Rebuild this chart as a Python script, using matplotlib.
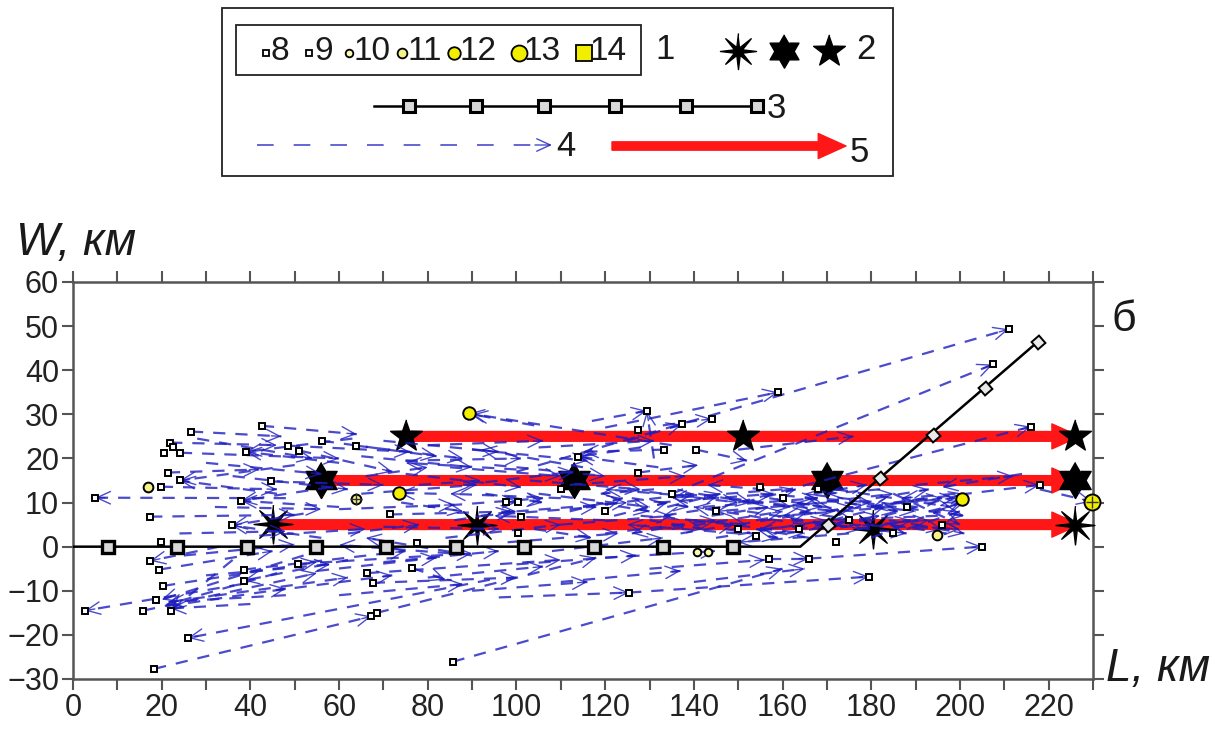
import numpy as np
import matplotlib
matplotlib.use('Agg')
import matplotlib.pyplot as plt
from matplotlib.ticker import MultipleLocator
from matplotlib.patches import Rectangle

plt.rcParams['font.family'] = ['Liberation Sans', 'DejaVu Sans']

# ---- data ----
# profile line (3) and its markers
profile_x = [0, 164, 217.6]
profile_y = [0, 0, 46.5]
profile_sq_x = [7.9, 23.4, 39.2, 54.8, 70.6, 86.4, 101.7, 117.5, 133, 148.8]
profile_dia_x = [170.3, 182, 194, 205.6, 217.6]
profile_dia_y = [5, 15.6, 25.4, 36, 46.5]

# main shocks (2) and rupture arrows (5)
shock_y = [25, 15, 5]
shock_x0 = [75, 56, 45]
shock_x1 = [227, 227, 227]
star5_x = [75, 151, 226]
star5_y = [25, 25, 25]
star6_x = [56, 113, 170, 226]
star6_y = [15, 15, 15, 15]
star8_x = [45, 91, 180.5, 226]
star8_y = [5.2, 5, 4, 5]

# earthquakes by energy class (1)
quakes_8 = [(67.3, -15.8), (85.6, -26.1), (2.7, -14.5), (15.8, -14.5), (19.4, -5.2),
            (38.5, -5.2), (66.3, -6), (19.8, 1.1), (157, -2.7), (166, -2.7), (154, 2.5),
            (163.7, 4), (172, 1), (100.3, 3.2), (77.6, 0.9), (101, 6.8), (71.5, 7.3),
            (19.8, 13.6), (44.6, 14.8), (21.9, 23.6), (22.5, 22.5), (26.6, 26.1),
            (42.6, 27.4), (48.5, 22.9), (127.4, 16.8), (127.4, 26.5), (133.3, 22),
            (140.5, 22), (155, 13.6), (216, 27.2), (218, 14), (145, 8), (175, 6),
            (196, 5), (135, 12), (110, 13), (168, 13), (185, 3)]
quakes_9 = [(18.3, -27.7), (68.5, -15), (25.9, -20.7), (18.7, -12), (22, -14.5),
            (20.3, -8.9), (17.4, -3.2), (38.5, -7.7), (50.7, -3.9), (67.6, -8.2),
            (76.4, -4.8), (35.8, 4.8), (125.4, -10.4), (179.5, -6.8), (205, 0),
            (97.6, 10.2), (100.3, 10.2), (5, 11.1), (17.4, 6.8), (21.4, 16.8),
            (24.1, 15), (37.9, 10.4), (20.5, 21.3), (24.1, 21.3), (39, 21.5), (51, 21.8),
            (56.1, 24), (63.8, 22.9), (113.9, 20.4), (129.4, 30.8), (137.3, 27.7),
            (144, 29), (159, 35), (211, 49.3), (207.4, 41.3), (160, 11), (188, 9),
            (120, 8), (150, 4)]
quakes_10 = [(140.7, -1.1), (143.2, -1.1)]
quakes_11 = [(16.9, 13.6), (63.8, 10.7), (194.8, 2.7)]
quakes_12 = [(73.5, 12.2), (89.3, 30.2), (200.4, 10.7)]
quakes_13 = [(229.8, 10.2)]
crossed = [(229.8, 10.2), (63.8, 10.7)]

# migration arrows (4): x0, y0 -> x1, y1
arrows_lower = [
    (18.3, -27.7, 67.3, -15.8), (68.5, -15.0, 118, -2.5), (85.6, -26.1, 160, -5.0),
    (94, -7.5, 25.9, -20.7), (38, -8.5, 2.7, -14.5), (15.8, -14.5, 55, -6),
    (52, -2, 20, -12), (46, -6, 21, -13.2), (36, -3, 22, -14.5), (48, -11, 21.5, -12.5),
    (40, -13, 22, -14), (22, -12.5, 62, -7), (21, -13.5, 48, -9.5),
    (125.4, -10.4, 179.5, -6.8), (96, -11.5, 125.4, -10.4), (62, -3, 38.5, -7.7),
    (38.5, -5.2, 75, -1), (50.7, -3.9, 90, -1.5), (66.3, -6, 110, -3),
    (67.6, -8.2, 100, -7), (76.4, -4.8, 84, -7.5), (33, 0, 17.4, -3.2),
    (19.4, -5.2, 45, -1), (20.3, -8.9, 55, -3.5), (157, -2.7, 166, -2.7),
    (166, -2.7, 205, 0), (25, -2, 50, 0.5), (30, -6.5, 58, -4), (45, -10, 72, -6.5),
    (55, -5.5, 82, -2.5), (60, -11, 88, -8.5), (70, -3.5, 96, -1), (80, -7, 106, -4.5),
    (90, -10, 116, -8), (100, -4, 127, -2), (110, -8, 137, -5.5), (120, -2.5, 145, -1),
    (130, -5, 156, -3), (140, -8, 165, -5), (85, -1.5, 60, 0.4),
]
arrows_left = [
    (48, 11, 5, 11.1), (17.4, 6.8, 50, 7.2), (19.8, 13.6, 46, 13), (21.4, 16.8, 42, 17.5),
    (50, 18.5, 24.1, 15), (46, 12, 24.1, 15), (24.1, 21.3, 60, 20), (21.9, 23.6, 46, 23),
    (26.6, 26.1, 47, 25), (42.6, 27.4, 64, 25.5), (63, 24.5, 39, 21.5), (60, 19, 39, 21.5),
    (48.5, 22.9, 76, 21.5), (51, 21.8, 72, 17), (56.1, 24, 82, 20.5), (63.8, 22.9, 88, 20),
    (44.6, 14.8, 70, 14), (60, 9, 37.9, 10.4), (58, 13.5, 37.9, 10.4), (56, 2, 35.8, 4.8),
    (52, 7.5, 35.8, 4.8), (30, 19, 56, 16.5), (28, 24.5, 54, 20), (32, 9, 56, 8.5),
    (24, 3, 48, 3.5), (36, 16, 62, 13), (42, 2.5, 66, 4),
]
arrows_mid = [
    (71.5, 7.3, 100, 8), (60, 8.5, 86, 9.5), (65, 12, 91, 14), (70, 4.5, 96, 4),
    (75, 16.5, 101, 13.5), (80, 9, 106, 11), (84, 2, 110, 5), (88, 14, 113, 17),
    (92, 7, 118, 9), (95, 18.5, 120, 16), (98, 1, 123, 3), (103, 15, 128, 13),
    (108, -1, 133, 2), (100, 17.5, 75, 19), (110, 11, 85, 12), (120, 6, 95, 7),
    (115, 18, 92, 22), (90, -2, 66, 2), (65, 20.5, 90, 18), (70, 24, 96, 21.5),
    (75, 19.5, 101, 20), (80, 23, 106, 24), (85, 18, 110, 16), (90, 22, 116, 19.5),
    (135, 23, 89.3, 30.2), (104, 27.5, 90, 30), (128, 22.5, 113.9, 20.4),
    (132, 18, 113.9, 20.4), (127.4, 16.8, 141, 18.5), (131, 20, 129.4, 30.8),
    (117, 28.5, 129.4, 30.8), (125, 24, 137.3, 27.7), (133, 27.5, 144, 29),
    (133.3, 22, 115, 21.5), (140.5, 22, 152, 19.5), (100, 17, 211, 49.3),
    (120, 27, 159, 35), (135, 12, 207.4, 41.3), (150, 10, 216, 27.2), (150, 22, 176, 25),
    (97.6, 10.2, 100.3, 10.2), (82, 12, 73.5, 12.2), (112, 14, 138, 16),
    (105, 22.5, 131, 24), (62, 3, 78, 5), (74, 10, 88, 8), (86, 6, 99, 8),
    (93, 12, 106, 10), (104, 4, 117, 2), (112, 8, 124, 11), (78, 14, 92, 15),
    (66, 16, 80, 18),
]
arrows_cluster = [
    (100, 8, 125, 10), (105, 12, 130, 9), (110, 5, 135, 7), (115, 9, 140, 12),
    (120, 3, 145, 6), (125, 13, 150, 10), (128, 7, 152, 5), (132, 10, 158, 12),
    (135, 4, 160, 8), (138, 12, 162, 9), (140, 6, 165, 3), (142, 9, 168, 11),
    (145, 2, 170, 6), (148, 11, 172, 8), (150, 5, 176, 9), (152, 8, 178, 4),
    (155, 12, 180, 10), (158, 3, 182, 7), (160, 9, 185, 12), (162, 6, 188, 3),
    (165, 11, 190, 8), (168, 4, 193, 6), (170, 8, 196, 11), (172, 13, 198, 9),
    (175, 5, 200, 4), (178, 10, 201, 7), (180, 2, 200, 10), (183, 7, 201, 12),
    (185, 12, 200, 5), (188, 4, 200, 8), (170, 10, 145, 8), (180, 6, 155, 4),
    (190, 9, 165, 12), (160, 13, 135, 11), (150, 3, 125, 5), (175, 3, 150, 1),
    (195, 7, 170, 6), (145, 11, 120, 13), (165, 5, 140, 9), (185, 9, 160, 7),
    (185, 10, 218, 14), (190, 14, 212, 16), (214, 16.5, 196, 13.5), (218, 13, 229.8, 10.2),
    (118, 10, 130, 8), (122, 7, 134, 10), (126, 11, 139, 9), (130, 6, 142, 4),
    (134, 9, 146, 12), (137, 3, 149, 5), (141, 12, 153, 10), (144, 7, 157, 9),
    (147, 4, 159, 2), (151, 10, 163, 13), (154, 6, 166, 8), (157, 11, 169, 9),
    (161, 3, 173, 5), (164, 8, 176, 6), (167, 12, 179, 14), (171, 6, 183, 9),
    (174, 10, 186, 8), (177, 4, 189, 6), (181, 11, 193, 13), (184, 6, 196, 4),
    (187, 10, 199, 11), (190, 5, 201, 3), (193, 8, 201, 10), (199, 12, 187, 11),
    (197, 3, 184, 5), (192, 11, 180, 9), (182, 13, 170, 12), (176, 8, 163, 10),
    (166, 2, 154, 4), (156, 13, 143, 14), (146, 9, 133, 7), (138, 5, 126, 3),
    (131, 13, 119, 12),
]

# legend classes
leg_classes = ['8', '9', '10', '11', '12', '13', '14']
leg_marker_x = [266, 309, 349, 402, 454, 519, 584]

BLUE = '#1e1ec0'
RED = '#ff1616'
YEL = '#f2ee00'
INK = '#1a1a1a'
class_style = {
    '8': ('s', 4.2, 'white'), '9': ('s', 5.0, 'white'), '10': ('o', 5.5, '#fbfbb0'),
    '11': ('o', 7.0, '#f6f28a'), '12': ('o', 9.0, YEL), '13': ('o', 11.5, YEL),
    '14': ('s', 11.0, YEL),
}
quakes = {'8': quakes_8, '9': quakes_9, '10': quakes_10, '11': quakes_11,
          '12': quakes_12, '13': quakes_13}


def star(n, inner):
    k = np.arange(2 * n)
    ang = np.pi / 2 + k * np.pi / n
    r = np.where(k % 2 == 0, 1.0, inner)
    return np.column_stack([r * np.cos(ang), r * np.sin(ang)])


fig = plt.figure(figsize=(12.32, 7.29), dpi=100)
ax = fig.add_axes([73 / 1232, 1 - 679 / 729, (1093 - 73) / 1232, (679 - 282) / 729])
ax.set_xlim(0, 230)
ax.set_ylim(-30, 60)

HEAD = '->,head_length=0.7,head_width=0.32'


def blue_arrow(x0, y0, x1, y1):
    ax.plot([x0, x1], [y0, y1], color=BLUE, lw=1.6, dashes=(5.5, 4.5), zorder=4, alpha=0.8)
    p0 = ax.transData.transform((x0, y0))
    p1 = ax.transData.transform((x1, y1))
    d = (p1 - p0) / np.hypot(*(p1 - p0))
    tail = ax.transData.inverted().transform(p1 - d * 10)
    ax.annotate('', xy=(x1, y1), xytext=tail, zorder=4,
                arrowprops=dict(arrowstyle=HEAD, color=BLUE, lw=1.0, shrinkA=0,
                                shrinkB=0, mutation_scale=14, alpha=0.8))


# red rupture arrows
for y, xa, xb in zip(shock_y, shock_x0, shock_x1):
    ax.annotate('', xy=(xb, y), xytext=(xa, y), zorder=3,
                arrowprops=dict(arrowstyle='simple,head_length=2.0,head_width=1.8,tail_width=0.7',
                                color=RED, mutation_scale=10, shrinkA=0, shrinkB=0))

# stars
ax.plot(star5_x, star5_y, ls='none', marker=star(5, 0.4), ms=24, color='black', zorder=3.5, clip_on=False)
ax.plot(star6_x, star6_y, ls='none', marker=star(6, 0.58), ms=26, color='black', zorder=3.5, clip_on=False)
ax.plot(star8_x, star8_y, ls='none', marker=star(8, 0.24), ms=28, color='black', zorder=3.5, clip_on=False)

for group in (arrows_lower, arrows_left, arrows_mid, arrows_cluster):
    for a in group:
        blue_arrow(*a)

# profile
ax.plot(profile_x, profile_y, color='black', lw=1.8, zorder=5)
ax.plot(profile_sq_x, [0] * len(profile_sq_x), ls='none', marker='s', ms=9,
        mfc='#d8d8d8', mec='black', mew=2.4, zorder=5)
ax.plot(profile_dia_x, profile_dia_y, ls='none', marker=(4, 0, -4), ms=10,
        mfc='#e8e8e8', mec='black', mew=1.4, zorder=5)

# earthquakes
for cls, pts in quakes.items():
    m, s, fc = class_style[cls]
    xs, ys = zip(*pts)
    ax.plot(xs, ys, ls='none', marker=m, ms=s, mfc=fc, mec='black', mew=1.4,
            zorder=6, clip_on=False)
cx, cy = zip(*crossed)
ax.plot(cx, cy, ls='none', marker='+', ms=9, mew=1.0, color='#333333', zorder=6.5, clip_on=False)

# axes styling
ax.xaxis.set_major_locator(MultipleLocator(20))
ax.xaxis.set_minor_locator(MultipleLocator(10))
ax.yaxis.set_major_locator(MultipleLocator(10))
ax.tick_params(which='both', direction='out', length=8, width=1.5, color='#555555',
               top=True, right=True, labelsize=22, pad=2, labelcolor='#222222')
for sp in ax.spines.values():
    sp.set_color('#555555')
    sp.set_linewidth(1.8)

# overlay in pixel coordinates for labels and the legend
lg = fig.add_axes([0, 0, 1, 1])
lg.set_xlim(0, 1232)
lg.set_ylim(729, 0)
lg.axis('off')

lg.text(16, 243, 'W, км', fontsize=33, style='italic', va='center', ha='left', color=INK)
lg.text(1106, 669, 'L, км', fontsize=33, style='italic', va='center', ha='left', color=INK)
lg.text(1112, 320, 'б', fontsize=31, va='center', ha='left', color=INK)

lg.add_patch(Rectangle((222, 8), 671, 168, fill=False, ec='#222222', lw=1.3))
lg.add_patch(Rectangle((236, 25), 405, 50, fill=False, ec='#222222', lw=1.3))

for cls, mx in zip(leg_classes, leg_marker_x):
    m, s, fc = class_style[cls]
    lg.plot([mx], [53], ls='none', marker=m, ms=s, mfc=fc, mec='black', mew=1.3)
    lg.text(mx + 5, 51, cls, fontsize=24, va='center', ha='left', color=INK)
lg.text(655, 49, '1', fontsize=25, va='center', ha='left', color=INK)

lg.plot([738], [51], marker=star(8, 0.24), ms=26, color='black')
lg.plot([784], [51], marker=star(6, 0.58), ms=24, color='black')
lg.plot([829], [51], marker=star(5, 0.4), ms=24, color='black')
lg.text(856, 49, '2', fontsize=25, va='center', ha='left', color=INK)

lg.plot([374, 763], [106, 106], color='black', lw=1.8)
lg.plot([409, 476, 544, 615, 686, 757], [106] * 6, ls='none', marker='s', ms=8,
        mfc='#d8d8d8', mec='black', mew=2.2)
lg.text(767, 108, '3', fontsize=25, va='center', ha='left', color=INK)

lg.plot([257, 546], [145, 145], color=BLUE, lw=1.2, dashes=(10, 12), alpha=0.8)
lg.annotate('', xy=(552, 145), xytext=(535, 145),
            arrowprops=dict(arrowstyle=HEAD, color=BLUE, lw=1.0, shrinkA=0, shrinkB=0,
                            mutation_scale=14, alpha=0.8))
lg.text(556, 146, '4', fontsize=25, va='center', ha='left', color=INK)

lg.annotate('', xy=(846, 146), xytext=(612, 146),
            arrowprops=dict(arrowstyle='simple,head_length=2.0,head_width=1.8,tail_width=0.6',
                            color=RED, mutation_scale=10, shrinkA=0, shrinkB=0))
lg.text(850, 152, '5', fontsize=25, va='center', ha='left', color=INK)

fig.savefig('out.png', dpi=100)
